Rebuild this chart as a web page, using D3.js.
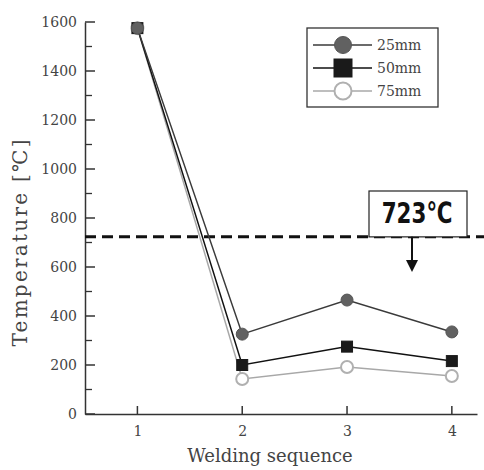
<!DOCTYPE html>
<html>
<head>
<meta charset="utf-8">
<script src="https://cdn.jsdelivr.net/npm/d3@7"></script>
<style>
  body { margin: 0; background: #fff; }
  text { font-family: "DejaVu Serif", "Liberation Serif", serif; fill: #444; }
</style>
</head>
<body>
<svg id="chart" width="484" height="470"></svg>
<script>
// welding sequence and peak temperatures
var sequence = [1, 2, 3, 4];
var temp25 = [1575, 326, 465, 335];
var temp50 = [1575, 200, 275, 216];
var temp75 = [1575, 143, 192, 155];
var yTicks = [0, 200, 400, 600, 800, 1000, 1200, 1400, 1600];
var minorTicks = [100, 300, 500, 700, 900, 1100, 1300, 1500];
var critical = 723;

var series = [
    {name: "25mm", values: temp25, shape: "circle", fill: "#616161", stroke: "#555", line: "#3a3a3a"},
    {name: "50mm", values: temp50, shape: "square", fill: "#1a1a1a", stroke: "#1a1a1a", line: "#111"},
    {name: "75mm", values: temp75, shape: "open", fill: "#fff", stroke: "#b0b0b0", line: "#a8a8a8"}
];

var svg = d3.select("#chart");
var x = d3.scaleLinear().domain([0.5, 4.24]).range([85, 477]);
var y = d3.scaleLinear().domain([0, 1600]).range([414, 22]);

// axes
var yAxis = d3.axisLeft(y).tickValues(yTicks).tickSize(0).tickPadding(8).tickFormat(d3.format("d"));
var gy = svg.append("g").attr("transform", "translate(85,0)").call(yAxis);
gy.select(".domain").attr("stroke", "#333").attr("stroke-width", 1.5);
gy.selectAll("text").style("font-size", "14px").style("font-family", "DejaVu Serif");
gy.selectAll(".major").data(yTicks).enter().append("line")
    .attr("x1", 0).attr("x2", 10).attr("y1", function (d) { return y(d); }).attr("y2", function (d) { return y(d); })
    .attr("stroke", "#333").attr("stroke-width", 1.5);
gy.selectAll(".minor").data(minorTicks).enter().append("line")
    .attr("x1", 0).attr("x2", 7).attr("y1", function (d) { return y(d); }).attr("y2", function (d) { return y(d); })
    .attr("stroke", "#333").attr("stroke-width", 1.3);

var xAxis = d3.axisBottom(x).tickValues(sequence).tickSize(0).tickPadding(12).tickFormat(d3.format("d"));
var gx = svg.append("g").attr("transform", "translate(0,414)").call(xAxis);
gx.select(".domain").attr("stroke", "#333").attr("stroke-width", 1.5);
gx.selectAll("text").style("font-size", "14px").style("font-family", "DejaVu Serif");
gx.selectAll(".tk").data(sequence).enter().append("line")
    .attr("x1", function (d) { return x(d); }).attr("x2", function (d) { return x(d); })
    .attr("y1", 0).attr("y2", -8).attr("stroke", "#333").attr("stroke-width", 1.5);

svg.append("text").attr("x", 270).attr("y", 462).attr("text-anchor", "middle")
    .style("font-size", "18px").text("Welding sequence");
svg.append("text").attr("transform", "translate(27,243) rotate(-90)").attr("text-anchor", "middle")
    .attr("textLength", 207).attr("lengthAdjust", "spacing")
    .style("font-size", "20px").text("Temperature [℃]");

// 723 line
svg.append("line").attr("x1", 85).attr("x2", 484).attr("y1", y(critical)).attr("y2", y(critical))
    .attr("stroke", "#111").attr("stroke-width", 3).attr("stroke-dasharray", "11,6");
svg.append("rect").attr("x", 369).attr("y", 191).attr("width", 98).attr("height", y(critical) - 191)
    .attr("fill", "#fff").attr("stroke", "#222").attr("stroke-width", 1.2);
svg.append("text").attr("transform", "translate(417,223) scale(0.74,1)").attr("text-anchor", "middle")
    .style("font-family", "'DejaVu Sans', sans-serif")
    .style("font-size", "29px").style("font-weight", "bold").style("fill", "#111").text("723℃");
svg.append("line").attr("x1", 412).attr("x2", 412).attr("y1", y(critical)).attr("y2", 262)
    .attr("stroke", "#111").attr("stroke-width", 2);
svg.append("path").attr("d", "M406,260 L418,260 L412,272 Z").attr("fill", "#111");

function drawMarker(g, s, cx, cy, r) {
    if (s.shape == "square") {
        g.append("rect").attr("x", cx - r).attr("y", cy - r).attr("width", 2 * r).attr("height", 2 * r)
            .attr("fill", s.fill).attr("stroke", s.stroke).attr("stroke-width", 1);
    } else {
        g.append("circle").attr("cx", cx).attr("cy", cy).attr("r", r)
            .attr("fill", s.fill).attr("stroke", s.stroke).attr("stroke-width", s.shape == "open" ? 2 : 1);
    }
}

var line = d3.line().x(function (d, i) { return x(sequence[i]); }).y(function (d) { return y(d); });

// draw series, light ones first
series.slice().reverse().forEach(function (s) {
    var g = svg.append("g");
    g.append("path").datum(s.values).attr("d", line).attr("fill", "none")
        .attr("stroke", s.line).attr("stroke-width", 1.5);
    s.values.forEach(function (v, i) {
        drawMarker(g, s, x(sequence[i]), y(v), s.shape == "square" ? 5.5 : 6);
    });
});

// legend
var lg = svg.append("g");
lg.append("rect").attr("x", 307).attr("y", 28).attr("width", 131).attr("height", 79)
    .attr("fill", "#fff").attr("stroke", "#333").attr("stroke-width", 1.3);
series.forEach(function (s, i) {
    var ly = 45 + i * 23;
    lg.append("line").attr("x1", 313).attr("x2", 372).attr("y1", ly).attr("y2", ly)
        .attr("stroke", s.line).attr("stroke-width", 1.5);
    drawMarker(lg, s, 343, ly, s.shape == "square" ? 9 : 8.5);
    lg.append("text").attr("x", 377).attr("y", ly + 5).style("font-size", "14px").text(s.name);
});
</script>
</body>
</html>
